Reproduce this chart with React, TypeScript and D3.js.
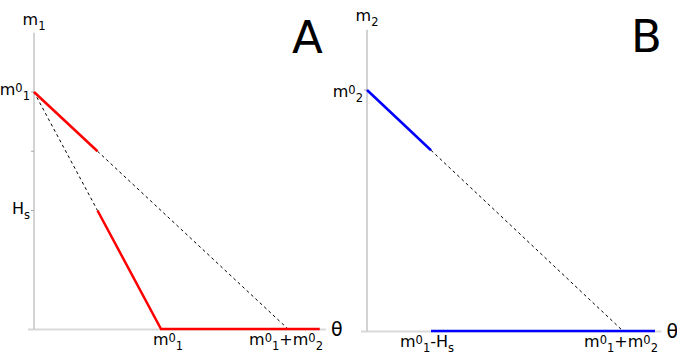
import React from "react";
import * as d3 from "d3";

// θ in units where m0_1 = m0_2 = 1, H_s = 0.5
const thetaMax = 2.25;
const mMax = 1.25;

// panel A
const redA1 = [[0, 1], [0.5, 0.75]];
const dashA1 = [[0.5, 0.75], [2, 0]];
const dashA2 = [[0, 1], [0.5, 0.5]];
const redA2 = [[0.5, 0.5], [1, 0], [2.25, 0]];
const yTicksA = [1, 0.75, 0.5];

// panel B
const blueB1 = [[0, 1], [0.5, 0.75]];
const dashB1 = [[0.5, 0.75], [2, 0]];
const blueB2 = [[0.5, 0], [2.25, 0]];
const yTicksB = [1];

type Part = { t: string; k?: "sup" | "sub" };
const lbl_m01: Part[] = [{ t: "m" }, { t: "0", k: "sup" }, { t: "1", k: "sub" }];
const lbl_m02: Part[] = [{ t: "m" }, { t: "0", k: "sup" }, { t: "2", k: "sub" }];
const lbl_Hs: Part[] = [{ t: "H" }, { t: "s", k: "sub" }];
const lbl_sum: Part[] = [...lbl_m01, { t: "+m" }, { t: "0", k: "sup" }, { t: "2", k: "sub" }];
const lbl_diff: Part[] = [...lbl_m01, { t: "-H" }, { t: "s", k: "sub" }];

const FONT = "DejaVu Sans, sans-serif";

const Label = ({ parts, x, y, anchor = "start", size = 16 }: any) => {
  let shift = 0;
  return (
    <text x={x} y={y} textAnchor={anchor} fontFamily={FONT} fontSize={size} fill="#000">
      {parts.map((p: Part, i: number) => {
        const target = p.k === "sup" ? -3 : p.k === "sub" ? 5 : 0;
        const dy = target - shift;
        shift = target;
        return (
          <tspan key={i} dy={dy} fontSize={p.k ? 11.5 : size}>
            {p.t}
          </tspan>
        );
      })}
    </text>
  );
};

const Panel = ({ x0, y0, pxX, pxY, title, letter, letterX, letterY, titleY, yTicks, yLabels, xLabels, solid, dashed, color }: any) => {
  const x = d3.scaleLinear().domain([0, thetaMax]).range([x0, x0 + pxX * thetaMax]);
  const y = d3.scaleLinear().domain([0, mMax]).range([y0, y0 - pxY * mMax]);
  const line = d3.line<number[]>().x((d) => x(d[0])).y((d) => y(d[1]));
  return (
    <g>
      <line x1={x(0) - 6} x2={x(2.3)} y1={y(0) + 0.5} y2={y(0) + 0.5} stroke="#d9d9d9" strokeWidth={2} />
      <line x1={x(0)} x2={x(0)} y1={y(0)} y2={y(mMax)} stroke="#a8a8a8" strokeWidth={1} />
      {yTicks.map((t: number) => (
        <line key={t} x1={x(0) - 3} x2={x(0)} y1={y(t)} y2={y(t)} stroke="#a8a8a8" />
      ))}
      {dashed.map((d: number[][], i: number) => (
        <path key={i} d={line(d) || ""} fill="none" stroke="#000" strokeWidth={1} strokeDasharray="3,3" />
      ))}
      {solid.map((d: number[][], i: number) => (
        <path key={i} d={line(d) || ""} fill="none" stroke={color} strokeWidth={2.5} />
      ))}
      {yLabels.map((l: any, i: number) => (
        <Label key={i} parts={l.parts} x={x(0) - 4} y={y(l.v) + l.dy} anchor="end" />
      ))}
      {xLabels.map((l: any, i: number) => (
        <Label key={i} parts={l.parts} x={x(l.v) + l.dx} y={y(0) + 16} anchor="middle" />
      ))}
      <Label parts={title} x={x(0)} y={titleY} anchor="middle" />
      <text x={x(2.3) + 5} y={y(0) + 7} fontFamily={FONT} fontSize={19}>θ</text>
      <text x={letterX} y={letterY} fontFamily={FONT} fontSize={45}>{letter}</text>
    </g>
  );
};

export default function App() {
  return (
    <svg width={677} height={355} style={{ position: "absolute", left: 0, top: 0, background: "#fff" }}>
      <Panel
        x0={34} y0={329} pxX={127} pxY={237}
        title={[{ t: "m" }, { t: "1", k: "sub" }]} titleY={25}
        letter="A" letterX={292} letterY={53}
        yTicks={yTicksA}
        yLabels={[{ parts: lbl_m01, v: 1, dy: 3 }, { parts: lbl_Hs, v: 0.5, dy: 3 }]}
        xLabels={[{ parts: lbl_m01, v: 1, dx: 7 }, { parts: lbl_sum, v: 2, dx: -2 }]}
        solid={[redA1, redA2]} dashed={[dashA1, dashA2]} color="#ff0000"
      />
      <Panel
        x0={367} y0={331} pxX={128} pxY={241}
        title={[{ t: "m" }, { t: "2", k: "sub" }]} titleY={21}
        letter="B" letterX={631} letterY={52}
        yTicks={yTicksB}
        yLabels={[{ parts: lbl_m02, v: 1, dy: 7 }]}
        xLabels={[{ parts: lbl_diff, v: 0.5, dx: -4 }, { parts: lbl_sum, v: 2, dx: -2 }]}
        solid={[blueB1, blueB2]} dashed={[dashB1]} color="#0000ff"
      />
    </svg>
  );
}
